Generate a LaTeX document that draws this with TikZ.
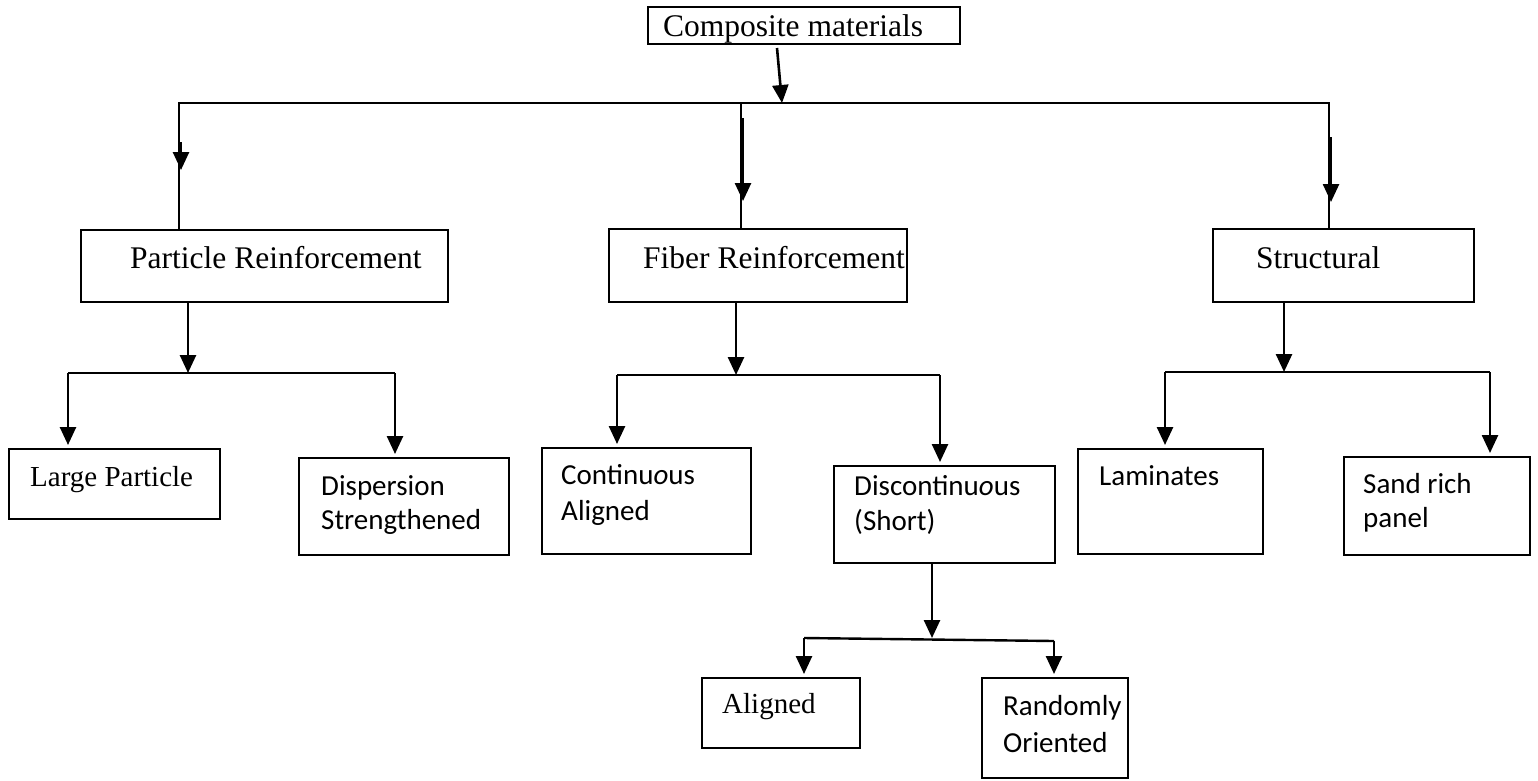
\documentclass[tikz,border=0pt]{standalone}
\usepackage{fontspec}
\setmainfont{Liberation Serif}
\newfontfamily\calfont{Carlito}
\usetikzlibrary{arrows.meta}
\begin{document}
\begin{tikzpicture}[x=1pt,y=-1pt,
  box/.style={draw,line width=1.8pt,inner sep=0pt,anchor=north west},
  big/.style={anchor=base west,inner sep=0pt,font=\fontsize{31.5}{38}\selectfont},
  mid/.style={anchor=base west,inner sep=0pt,font=\fontsize{29}{35}\selectfont},
  cal/.style={anchor=base west,inner sep=0pt,font=\calfont\fontsize{29}{35}\selectfont},
  thinline/.style={line width=1.6pt},
  busline/.style={line width=2.4pt},
  arr/.style={line width=2.6pt,-{Triangle[width=16pt,length=18pt]}},
  gap/.style={shorten >=3pt},
]
\useasboundingbox (0,0) rectangle (1538,780);

% boxes
\node[box,minimum width=312pt,minimum height=37pt] (top) at (647,6) {};
\node[box,minimum width=367pt,minimum height=72pt] (part) at (80,229) {};
\node[box,minimum width=298pt,minimum height=73pt] (fiber) at (608,228) {};
\node[box,minimum width=261pt,minimum height=73pt] (struct) at (1212,228) {};
\node[box,minimum width=211pt,minimum height=70pt] (large) at (8,448) {};
\node[box,minimum width=210pt,minimum height=97pt] (disp) at (298,457) {};
\node[box,minimum width=209pt,minimum height=106pt] (cont) at (541,447) {};
\node[box,minimum width=221pt,minimum height=97pt] (disc) at (833,465) {};
\node[box,minimum width=185pt,minimum height=105pt] (lam) at (1077,448) {};
\node[box,minimum width=186pt,minimum height=98pt] (sand) at (1343,456) {};
\node[box,minimum width=158pt,minimum height=70pt] (ali) at (701,677) {};
\node[box,minimum width=146pt,minimum height=100pt] (rand) at (981,677) {};

% texts
\node[big] (topT) at (663,36) {Composite materials};
\node[big] (partT) at (130,268) {Particle Reinforcement};
\node[big] (fiberT) at (643,268) {Fiber Reinforcement};
\node[big] (structT) at (1256,268) {Structural};
\node[mid] (largeT) at (30,486) {Large Particle};
\node[cal] (dispT1) at (321,495) {Dispersion};
\node[cal] (dispT2) at (321,529) {Strengthened};
\node[cal] (contT1) at (561,484) {Continu\textit{o}us};
\node[cal] (contT2) at (561,520) {Aligned};
\node[cal] (discT1) at (854,495) {Discontinu\textit{o}us};
\node[cal] (discT2) at (854,530) {(Short)};
\node[cal] (lamT) at (1099,485) {Laminates};
\node[cal] (sandT1) at (1363,493) {Sand rich};
\node[cal] (sandT2) at (1363,527) {panel};
\node[mid] (aliT) at (722,713) {Aligned};
\node[cal] (randT1) at (1003,715) {Randomly};
\node[cal] (randT2) at (1003,752) {Oriented};

% top level connectors
\coordinate (t0) at (777,48);
\coordinate (t1) at (782,103);
\draw[arr] (t0) -- (t1);
\coordinate (busL) at (179,103);
\coordinate (busM) at (741,103);
\coordinate (busR) at (1329,103);
\draw[thinline] (part.north -| busL) -- (busL) -- (busR) -- (busR |- struct.north);
\draw[thinline] (busM) -- (busM |- fiber.north);
\coordinate (a1s) at (181,142); \coordinate (a1e) at (181,170);
\coordinate (a2s) at (743,118); \coordinate (a2e) at (743,201);
\coordinate (a3s) at (1331,137); \coordinate (a3e) at (1331,202);
\draw[arr] (a1s) -- (a1e);
\draw[arr] (a2s) -- (a2e);
\draw[arr] (a3s) -- (a3e);

% particle branch
\coordinate (pj) at (188,373);
\coordinate (pl) at (68,373);
\coordinate (pr) at (395,373);
\draw[arr] (part.south -| pj) -- (pj);
\draw[busline] (pl) -- (pr);
\draw[arr,gap] (pl) -- (pl |- large.north);
\draw[arr,gap] (pr) -- (pr |- disp.north);

% fiber branch
\coordinate (fj) at (736,375);
\coordinate (fl) at (617,375);
\coordinate (fr) at (940,375);
\draw[arr] (fiber.south -| fj) -- (fj);
\draw[busline] (fl) -- (fr);
\draw[arr,gap] (fl) -- (fl |- cont.north);
\draw[arr,gap] (fr) -- (fr |- disc.north);

% structural branch
\coordinate (sj) at (1284,372);
\coordinate (sl) at (1165,372);
\coordinate (sr) at (1490,372);
\draw[arr] (struct.south -| sj) -- (sj);
\draw[busline] (sl) -- (sr);
\draw[arr,gap] (sl) -- (sl |- lam.north);
\draw[arr,gap] (sr) -- (sr |- sand.north);

% discontinuous branch
\coordinate (dj) at (932,638);
\coordinate (dl) at (804,638);
\coordinate (dr) at (1054,641);
\draw[arr] (disc.south -| dj) -- (dj);
\draw[busline] (dl) -- (dr);
\draw[arr,gap] (dl) -- (dl |- ali.north);
\draw[arr,gap] (dr) -- (dr |- rand.north);
\end{tikzpicture}
\end{document}
